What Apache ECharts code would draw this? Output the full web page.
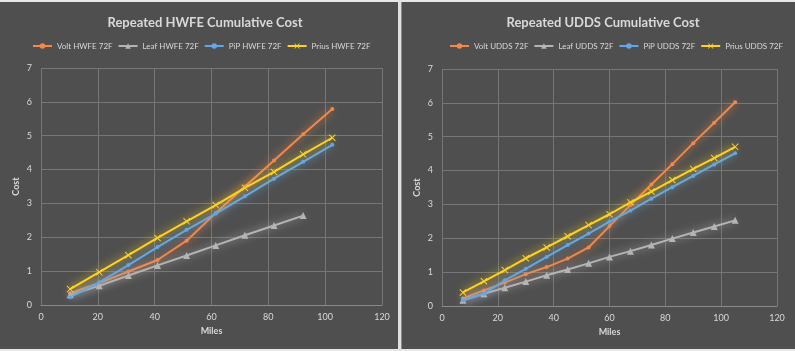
<!DOCTYPE html>
<html>
<head>
<meta charset="utf-8">
<script src="https://cdn.jsdelivr.net/npm/echarts@6/dist/echarts.min.js"></script>
<style>
  html, body { margin: 0; padding: 0; background: #4f4f4f; }
  #graph { width: 795px; height: 351px; }
</style>
</head>
<body>
<div id="graph"></div>
<script>
// HWFE runs (left panel)
var hwfeMiles = [10.25, 20.5, 30.75, 41, 51.25, 61.5, 71.75, 82, 92.25, 102.5];
var hwfeVolt  = [0.35, 0.65, 0.99, 1.33, 1.9, 2.72, 3.5, 4.27, 5.04, 5.79];
var hwfeLeaf  = [0.3, 0.57, 0.87, 1.17, 1.46, 1.76, 2.06, 2.35, 2.64];
var hwfePiP   = [0.23, 0.67, 1.18, 1.71, 2.22, 2.7, 3.21, 3.73, 4.23, 4.73];
var hwfePrius = [0.47, 0.97, 1.47, 1.98, 2.47, 2.95, 3.46, 3.93, 4.45, 4.94];

// UDDS runs (right panel)
var uddsMiles = [7.5, 15, 22.5, 30, 37.5, 45, 52.5, 60, 67.5, 75, 82.5, 90, 97.5, 105];
var uddsVolt  = [0.22, 0.46, 0.69, 0.94, 1.15, 1.4, 1.73, 2.36, 2.98, 3.59, 4.19, 4.81, 5.41, 6.02];
var uddsLeaf  = [0.17, 0.36, 0.54, 0.72, 0.91, 1.08, 1.26, 1.45, 1.62, 1.8, 1.99, 2.17, 2.35, 2.53];
var uddsPiP   = [0.17, 0.36, 0.76, 1.1, 1.45, 1.8, 2.14, 2.49, 2.82, 3.17, 3.51, 3.84, 4.18, 4.51];
var uddsPrius = [0.4, 0.73, 1.06, 1.41, 1.73, 2.06, 2.39, 2.71, 3.06, 3.38, 3.72, 4.05, 4.37, 4.7];

var titles = ['Repeated HWFE Cumulative Cost', 'Repeated UDDS Cumulative Cost'];

function pairs(xs, ys) {
    return ys.map(function(y, i) { return [xs[i], y]; });
}

var crossIcon = 'path://M0,1L1,0L5,4L9,0L10,1L6,5L10,9L9,10L5,6L1,10L0,9L4,5Z';
var txt = '#d9d9d9';
var font = 'Lato, "Open Sans", sans-serif';

function mkSeries(name, data, color, symbol, size, idx) {
    return {
        name: name,
        type: 'line',
        xAxisIndex: idx,
        yAxisIndex: idx,
        data: data,
        symbol: symbol,
        symbolSize: size,
        showSymbol: true,
        lineStyle: { color: color, width: 2, shadowColor: color, shadowBlur: 8 },
        itemStyle: { color: color, borderWidth: 0 },
        z: 3
    };
}

var colVolt = '#f0894a', colLeaf = '#b4b4b4', colPiP = '#63a6e6', colPrius = '#ffd21e';

var series = [
    mkSeries('Volt HWFE 72F', pairs(hwfeMiles, hwfeVolt), colVolt, 'circle', 4, 0),
    mkSeries('Leaf HWFE 72F', pairs(hwfeMiles, hwfeLeaf), colLeaf, 'triangle', 7, 0),
    mkSeries('PiP HWFE 72F', pairs(hwfeMiles, hwfePiP), colPiP, 'circle', 4, 0),
    mkSeries('Prius HWFE 72F', pairs(hwfeMiles, hwfePrius), colPrius, crossIcon, 7, 0),
    mkSeries('Volt UDDS 72F', pairs(uddsMiles, uddsVolt), colVolt, 'circle', 4, 1),
    mkSeries('Leaf UDDS 72F', pairs(uddsMiles, uddsLeaf), colLeaf, 'triangle', 7, 1),
    mkSeries('PiP UDDS 72F', pairs(uddsMiles, uddsPiP), colPiP, 'circle', 4, 1),
    mkSeries('Prius UDDS 72F', pairs(uddsMiles, uddsPrius), colPrius, crossIcon, 7, 1)
];

function xAx(idx) {
    return {
        type: 'value', gridIndex: idx, min: 0, max: 120, interval: 20,
        name: 'Miles', nameLocation: 'middle', nameGap: 19,
        nameTextStyle: { color: txt, fontSize: 9, fontWeight: 'bold', fontFamily: font },
        axisLine: { show: true, lineStyle: { color: '#8a8a8a' } },
        axisTick: { show: false },
        axisLabel: { color: txt, fontSize: 9, fontFamily: font, margin: 8 },
        splitLine: { show: true, lineStyle: { color: '#767676', width: 1 } }
    };
}
function yAx(idx) {
    return {
        type: 'value', gridIndex: idx, min: 0, max: 7, interval: 1,
        name: 'Cost', nameLocation: 'middle', nameGap: 20,
        nameTextStyle: { color: txt, fontSize: 9, fontWeight: 'bold', fontFamily: font },
        axisLine: { show: false },
        axisTick: { show: false },
        axisLabel: { color: txt, fontSize: 9, fontFamily: font, margin: 9 },
        splitLine: { show: true, lineStyle: { color: '#767676', width: 1 } }
    };
}

var legendText = { color: txt, fontSize: 8, fontFamily: font };

var option = {
    backgroundColor: '#4f4f4f',
    animation: false,
    title: [
        { text: titles[0], left: 200, top: 11, textAlign: 'center',
          textStyle: { color: txt, fontSize: 13, fontWeight: 'bold', fontFamily: font } },
        { text: titles[1], left: 598, top: 11, textAlign: 'center',
          textStyle: { color: txt, fontSize: 13, fontWeight: 'bold', fontFamily: font } }
    ],
    legend: [
        { data: series.slice(0, 4).map(function(s) { return s.name; }),
          left: 32, top: 42, width: 360, padding: 0, itemWidth: 19, itemHeight: 7, itemGap: 5,
          textStyle: legendText },
        { data: series.slice(4).map(function(s) { return s.name; }),
          left: 449, top: 42, width: 346, padding: 0, itemWidth: 19, itemHeight: 7, itemGap: 5,
          textStyle: legendText }
    ],
    grid: [
        { left: 41, top: 68, width: 341, height: 237 },
        { left: 442, top: 69, width: 335, height: 237 }
    ],
    xAxis: [xAx(0), xAx(1)],
    yAxis: [yAx(0), yAx(1)],
    graphic: [
        { type: 'rect', shape: { x: 0, y: 0, width: 795, height: 2 }, style: { fill: '#e8e8e8' }, silent: true },
        { type: 'rect', shape: { x: 0, y: 349, width: 795, height: 2 }, style: { fill: '#e8e8e8' }, silent: true },
        { type: 'rect', shape: { x: 398, y: 0, width: 3, height: 351 }, style: { fill: '#e0e0e0' }, silent: true },
        { type: 'rect', shape: { x: 401, y: 2, width: 1, height: 347 }, style: { fill: '#8c8c8c' }, silent: true }
    ],
    series: series
};

var chart = echarts.init(document.getElementById('graph'));
chart.setOption(option);
</script>
</body>
</html>
